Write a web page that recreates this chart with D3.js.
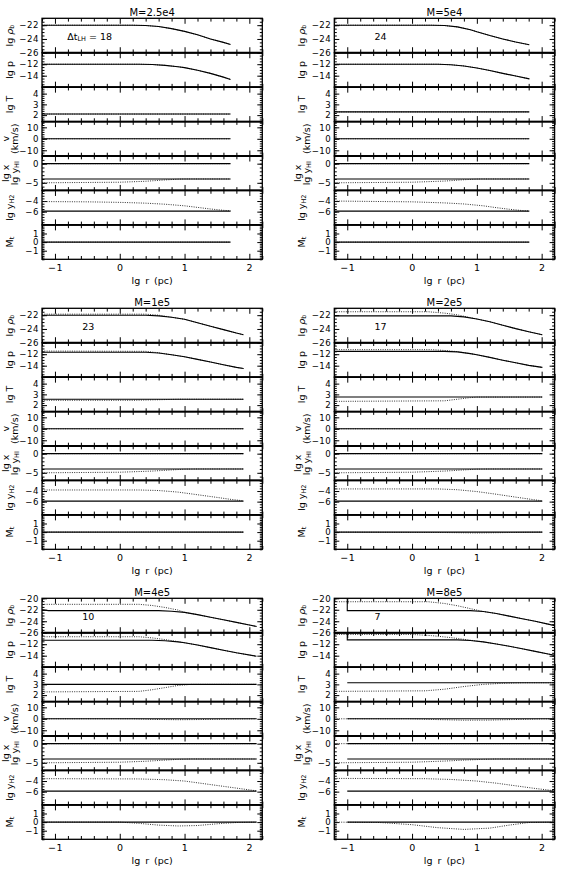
<!DOCTYPE html>
<html>
<head>
<meta charset="utf-8">
<script src="https://cdn.jsdelivr.net/npm/d3@7"></script>
<style>
body { margin: 0; background: #fff; }
text { font-family: "DejaVu Sans"; fill: #000; }
</style>
</head>
<body>
<svg id="fig" width="561" height="869"></svg>
<script>
// models, one per block (left->right, top->bottom)
var titles = ["M=2.5e4", "M=5e4", "M=1e5", "M=2e5", "M=4e5", "M=8e5"];
var dtLH = ["18", "24", "23", "17", "10", "7"];
var rTicks = [-1, 0, 1, 2];

// lg rho_b
var rhoSolid = [
  [[-1.2,-22],[0.2,-22],[0.4,-22.05],[0.6,-22.2],[0.8,-22.5],[1.0,-22.9],[1.2,-23.4],[1.4,-24.0],[1.6,-24.5],[1.71,-24.8]],
  [[-1.2,-22],[0.3,-22],[0.5,-22.05],[0.7,-22.25],[0.9,-22.65],[1.0,-22.95],[1.2,-23.5],[1.4,-24.0],[1.6,-24.45],[1.81,-24.85]],
  [[-1.2,-22],[0.4,-22],[0.6,-22.1],[0.8,-22.3],[1.0,-22.6],[1.2,-23.1],[1.4,-23.6],[1.6,-24.1],[1.8,-24.6],[1.91,-24.85]],
  [[-1.2,-22.1],[0.6,-22.1],[0.8,-22.25],[1.0,-22.55],[1.2,-22.95],[1.4,-23.45],[1.6,-23.95],[1.8,-24.4],[2.01,-24.85]],
  [[-1.2,-22.0],[-1.1,-22.15],[0.6,-22.15],[0.8,-22.25],[1.0,-22.45],[1.2,-22.85],[1.4,-23.3],[1.6,-23.75],[1.8,-24.2],[2.0,-24.65],[2.11,-24.9]],
  [[-1.0,-19],[-1.0,-22.15],[0.9,-22.15],[1.1,-22.3],[1.3,-22.65],[1.5,-23.1],[1.7,-23.55],[1.9,-24.0],[2.1,-24.5],[2.21,-24.8]]
];
var rhoDotted = [
  [[-1.2,-22],[0.2,-22],[0.4,-22.05],[0.6,-22.2],[0.8,-22.5],[1.0,-22.9],[1.2,-23.4],[1.4,-24.0],[1.6,-24.5],[1.71,-24.8]],
  [[-1.2,-22],[0.3,-22],[0.5,-22.05],[0.7,-22.25],[0.9,-22.65],[1.0,-22.95],[1.2,-23.5],[1.4,-24.0],[1.6,-24.45],[1.81,-24.85]],
  [[-1.2,-21.85],[0.4,-21.85],[0.6,-22.0],[0.8,-22.3],[1.0,-22.6],[1.2,-23.1],[1.4,-23.6],[1.6,-24.1],[1.8,-24.6],[1.91,-24.85]],
  [[-1.2,-21.5],[0.25,-21.5],[0.5,-21.7],[0.7,-21.95],[0.85,-22.25],[1.0,-22.55],[1.2,-22.95],[1.4,-23.45],[1.6,-23.95],[1.8,-24.4],[2.01,-24.85]],
  [[-1.2,-21.05],[0.3,-21.05],[0.5,-21.25],[0.7,-21.6],[0.9,-22.05],[1.0,-22.45],[1.2,-22.85],[1.4,-23.3],[1.6,-23.75],[1.8,-24.2],[2.0,-24.65],[2.11,-24.9]],
  [[-1.2,-20.6],[0.25,-20.6],[0.5,-20.9],[0.7,-21.3],[0.9,-21.8],[1.1,-22.3],[1.3,-22.65],[1.5,-23.1],[1.7,-23.55],[1.9,-24.0],[2.1,-24.5],[2.21,-24.8]]
];

// lg p
var pSolid = [
  [[-1.2,-12],[0.3,-12],[0.5,-12.05],[0.7,-12.2],[0.9,-12.45],[1.0,-12.6],[1.2,-13.05],[1.4,-13.6],[1.6,-14.25],[1.71,-14.65]],
  [[-1.2,-12],[0.4,-12],[0.6,-12.1],[0.8,-12.3],[1.0,-12.65],[1.2,-13.1],[1.4,-13.6],[1.6,-14.05],[1.81,-14.55]],
  [[-1.2,-11.65],[0.4,-11.65],[0.6,-11.8],[0.8,-12.1],[1.0,-12.45],[1.2,-12.9],[1.4,-13.35],[1.6,-13.85],[1.8,-14.3],[1.91,-14.5]],
  [[-1.2,-11.5],[0.5,-11.5],[0.7,-11.6],[0.9,-11.9],[1.0,-12.1],[1.2,-12.55],[1.4,-13.05],[1.6,-13.5],[1.8,-13.95],[2.01,-14.3]],
  [[-1.2,-11.3],[0.5,-11.3],[0.7,-11.4],[0.9,-11.6],[1.0,-11.75],[1.2,-12.15],[1.4,-12.6],[1.6,-13.05],[1.8,-13.5],[2.11,-14.1]],
  [[-1.0,-9],[-1.0,-11.25],[0.7,-11.25],[0.9,-11.35],[1.1,-11.6],[1.3,-11.95],[1.5,-12.35],[1.7,-12.8],[1.9,-13.25],[2.1,-13.7],[2.21,-13.95]]
];
var pDotted = [
  [[-1.2,-12],[0.3,-12],[0.5,-12.05],[0.7,-12.2],[0.9,-12.45],[1.0,-12.6],[1.2,-13.05],[1.4,-13.6],[1.6,-14.25],[1.71,-14.65]],
  [[-1.2,-12],[0.4,-12],[0.6,-12.1],[0.8,-12.3],[1.0,-12.65],[1.2,-13.1],[1.4,-13.6],[1.6,-14.05],[1.81,-14.55]],
  [[-1.2,-11.45],[0.4,-11.5],[0.6,-11.75],[0.8,-12.1],[1.0,-12.45],[1.2,-12.9],[1.4,-13.35],[1.6,-13.85],[1.8,-14.3],[1.91,-14.5]],
  [[-1.2,-11.2],[0.3,-11.2],[0.5,-11.35],[0.7,-11.55],[0.9,-11.9],[1.0,-12.1],[1.2,-12.55],[1.4,-13.05],[1.6,-13.5],[1.8,-13.95],[2.01,-14.3]],
  [[-1.2,-10.7],[0.3,-10.7],[0.5,-10.9],[0.7,-11.2],[0.9,-11.55],[1.0,-11.75],[1.2,-12.15],[1.4,-12.6],[1.6,-13.05],[1.8,-13.5],[2.11,-14.1]],
  [[-1.2,-10.3],[0.0,-10.3],[0.3,-10.5],[0.6,-10.85],[0.9,-11.3],[1.1,-11.6],[1.3,-11.95],[1.5,-12.35],[1.7,-12.8],[1.9,-13.25],[2.1,-13.7],[2.21,-13.95]]
];

// lg T
var TSolid = [
  [[-1.2,2.1],[1.71,2.1]],
  [[-1.2,2.3],[1.81,2.3]],
  [[-1.2,2.55],[1.91,2.55]],
  [[-1.2,2.75],[2.01,2.75]],
  [[-1.2,3.0],[2.11,3.0]],
  [[-1.0,3.15],[2.21,3.15]]
];
var TDotted = [
  [[-1.2,2.1],[1.71,2.1]],
  [[-1.2,2.3],[1.81,2.3]],
  [[-1.2,2.45],[0.2,2.45],[0.6,2.5],[0.9,2.55],[1.91,2.55]],
  [[-1.2,2.35],[0.5,2.4],[0.7,2.55],[0.9,2.7],[1.0,2.75],[2.01,2.75]],
  [[-1.2,2.3],[0.3,2.35],[0.5,2.5],[0.7,2.7],[0.9,2.9],[1.1,3.0],[2.11,3.0]],
  [[-1.2,2.35],[0.2,2.4],[0.5,2.55],[0.8,2.8],[1.1,3.0],[1.4,3.1],[1.7,3.15],[2.21,3.15]]
];

// v (km/s)
var vSolid = [
  [[-1.2,0],[1.71,0]],
  [[-1.2,0],[1.81,0]],
  [[-1.2,0],[1.91,0]],
  [[-1.2,0],[2.01,0]],
  [[-1.2,0],[2.11,0]],
  [[-1.0,0],[2.21,0]]
];
var vDotted = [
  [[-1.2,0],[1.71,0]],
  [[-1.2,0],[1.81,0]],
  [[-1.2,0],[1.91,0]],
  [[-1.2,0],[0.4,0],[0.9,-0.3],[1.5,-0.2],[2.01,0]],
  [[-1.2,0],[0.2,0],[0.5,-0.5],[0.9,-0.8],[1.3,-0.6],[1.7,-0.2],[2.11,0]],
  [[-1.2,0],[0.0,0],[0.4,-0.7],[0.8,-1.2],[1.2,-1.1],[1.6,-0.6],[2.0,-0.1],[2.21,0]]
];

// lg x
var xSolid = [
  [[-1.2,-4],[1.71,-4]],
  [[-1.2,-4],[1.81,-4]],
  [[-1.2,-4],[1.91,-4]],
  [[-1.2,-4],[2.01,-4]],
  [[-1.2,-4],[2.11,-4]],
  [[-1.0,-4],[2.21,-4]]
];
var xDotted = [
  [[-1.2,-5],[0,-4.85],[0.4,-4.6],[0.7,-4.25],[0.9,-4.05],[1.0,-4],[1.71,-4]],
  [[-1.2,-5],[0,-4.85],[0.5,-4.55],[0.8,-4.2],[1.0,-4.02],[1.1,-4],[1.81,-4]],
  [[-1.2,-5],[0,-4.85],[0.5,-4.55],[0.8,-4.25],[1.0,-4.05],[1.2,-4],[1.91,-4]],
  [[-1.2,-5],[0,-4.85],[0.5,-4.55],[0.8,-4.25],[1.0,-4.05],[1.2,-4],[2.01,-4]],
  [[-1.2,-5],[0,-4.85],[0.4,-4.6],[0.7,-4.3],[0.9,-4.1],[1.1,-4],[2.11,-4]],
  [[-1.2,-5],[0,-4.85],[0.5,-4.55],[0.8,-4.3],[1.1,-4.1],[1.3,-4],[2.21,-4]]
];

// lg y_HI
var yHISolid = [
  [[-1.2,0],[1.71,0]],
  [[-1.2,0],[1.81,0]],
  [[-1.2,0],[1.91,0]],
  [[-1.2,0],[2.01,0]],
  [[-1.2,0],[2.11,0]],
  [[-1.0,0],[2.21,0]]
];
var yHIDotted = [
  [[-1.2,0],[1.71,0]],
  [[-1.2,0],[1.81,0]],
  [[-1.2,0],[1.91,0]],
  [[-1.2,0],[2.01,0]],
  [[-1.2,0],[2.11,0]],
  [[-1.2,0],[2.21,0]]
];

// lg y_H2
var yH2Solid = [
  [[-1.2,-5.9],[1.71,-5.9]],
  [[-1.2,-5.9],[1.81,-5.9]],
  [[-1.2,-5.9],[1.91,-5.9]],
  [[-1.2,-5.9],[2.01,-5.9]],
  [[-1.2,-5.9],[2.11,-5.9]],
  [[-1.0,-5.9],[2.21,-5.9]]
];
var yH2Dotted = [
  [[-1.2,-4.1],[-0.5,-4.15],[0,-4.25],[0.4,-4.4],[0.7,-4.6],[1.0,-4.9],[1.2,-5.2],[1.4,-5.5],[1.6,-5.75],[1.71,-5.85]],
  [[-1.2,-4.0],[0,-4.15],[0.5,-4.35],[0.8,-4.55],[1.1,-4.9],[1.3,-5.25],[1.5,-5.55],[1.7,-5.8],[1.81,-5.88]],
  [[-1.2,-3.8],[0.3,-3.8],[0.6,-3.9],[0.9,-4.2],[1.2,-4.7],[1.5,-5.2],[1.7,-5.55],[1.91,-5.85]],
  [[-1.2,-3.6],[0.4,-3.6],[0.7,-3.75],[1.0,-4.1],[1.3,-4.6],[1.6,-5.15],[1.8,-5.5],[2.01,-5.85]],
  [[-1.2,-3.55],[0.3,-3.6],[0.7,-3.75],[1.0,-4.0],[1.3,-4.5],[1.6,-5.0],[1.9,-5.5],[2.11,-5.85]],
  [[-1.2,-3.5],[0.2,-3.55],[0.6,-3.7],[1.0,-4.0],[1.3,-4.4],[1.6,-4.9],[1.9,-5.4],[2.21,-5.85]]
];

// M_t
var MtSolid = [
  [[-1.2,0],[1.71,0]],
  [[-1.2,0],[1.81,0]],
  [[-1.2,0],[1.91,0]],
  [[-1.2,0],[2.01,0]],
  [[-1.2,0],[2.11,0]],
  [[-1.0,0],[2.21,0]]
];
var MtDotted = [
  [[-1.2,0],[1.71,0]],
  [[-1.2,0],[1.81,0]],
  [[-1.2,0],[1.91,0]],
  [[-1.2,0],[0.5,-0.05],[1.0,-0.1],[1.5,-0.05],[2.01,0]],
  [[-1.2,0],[0,0],[0.3,-0.15],[0.6,-0.35],[0.9,-0.45],[1.2,-0.4],[1.5,-0.2],[1.8,-0.05],[2.11,0]],
  [[-1.2,0],[-0.5,-0.05],[0,-0.3],[0.4,-0.65],[0.8,-0.85],[1.2,-0.7],[1.5,-0.35],[1.8,-0.05],[2.21,0]]
];

// panel axes
var panelKeys = ["rho", "p", "T", "v", "x", "yH2", "Mt"];
var yDomain = {rho: [-26, -21], p: [-16, -10], T: [1.4, 4.6], v: [-15, 15], x: [-7, 2], yH2: [-8.5, -2], Mt: [-2, 2]};
var yTicks = {rho: [-22, -24, -26], p: [-12, -14], T: [2, 3, 4], v: [-10, 0, 10], x: [0, -5], yH2: [-4, -6], Mt: [-1, 0, 1]};
var yMinor = {rho: 0.5, p: 0.5, T: 0.2, v: 2, x: 1, yH2: 0.5, Mt: 0.2};
var rhoDomainBottom = [-26, -20];
var rhoTicksBottom = [-20, -22, -24, -26];

var curves = {
  rho: [[rhoSolid, rhoDotted]],
  p: [[pSolid, pDotted]],
  T: [[TSolid, TDotted]],
  v: [[vSolid, vDotted]],
  x: [[yHISolid, yHIDotted], [xSolid, xDotted]],
  yH2: [[yH2Solid, yH2Dotted]],
  Mt: [[MtSolid, MtDotted]]
};

var svg = d3.select("#fig");
var colLeft = [42, 334.3], plotW = 220.3;
var rowTop = [18.3, 308.3, 598.3], panH = 34.43;

var x = d3.scaleLinear().domain([-1.2, 2.2]);

function removeDomain(g) { g.select(".domain").remove(); }
function minusFmt(d) { return d < 0 ? "\u2212" + (-d) : d; }

function ylabel(g, cx, cy, parts) {
  var t = g.append("text")
      .attr("transform", "translate(" + cx + "," + cy + ") rotate(-90)")
      .attr("text-anchor", "middle")
      .attr("dominant-baseline", "central")
      .style("font-size", "9.5px");
  var shift = 0;
  parts.forEach(function(pt) {
    var s = t.append("tspan").text(pt[0]);
    if (pt[1] && !shift) { s.attr("dy", 2.5).style("font-size", "6.5px"); shift = 1; }
    else if (!pt[1] && shift) { s.attr("dy", -2.5); shift = 0; }
    if (pt[2]) s.style("font-style", "italic");
  });
}

var clipId = 0;

titles.forEach(function(title, m) {
  var L = colLeft[m % 2], T0 = rowTop[Math.floor(m / 2)];
  var bottomRow = Math.floor(m / 2) == 2;
  var xs = x.copy().range([L, L + plotW]);
  var g = svg.append("g");

  g.append("text").attr("x", L + plotW / 2).attr("y", T0 - 2.5)
      .attr("text-anchor", "middle").style("font-size", "10px").text(title);

  panelKeys.forEach(function(key, k) {
    var top = T0 + k * panH, bot = top + panH;
    var dom = (key == "rho" && bottomRow) ? rhoDomainBottom : yDomain[key];
    var majors = (key == "rho" && bottomRow) ? rhoTicksBottom : yTicks[key];
    var ys = d3.scaleLinear().domain(dom).range([bot, top]);
    var step = yMinor[key];
    var minors = d3.range(Math.ceil(dom[0] / step) * step, dom[1] + 1e-9, step);

    // y ticks, both sides, pointing in
    g.append("g").attr("transform", "translate(" + L + ",0)")
        .call(d3.axisRight(ys).tickValues(minors).tickSize(2.5).tickFormat("")).call(removeDomain);
    g.append("g").attr("transform", "translate(" + L + ",0)")
        .call(d3.axisRight(ys).tickValues(majors).tickSize(5).tickFormat("")).call(removeDomain);
    g.append("g").attr("transform", "translate(" + (L + plotW) + ",0)")
        .call(d3.axisLeft(ys).tickValues(minors).tickSize(2.5).tickFormat("")).call(removeDomain);
    g.append("g").attr("transform", "translate(" + (L + plotW) + ",0)")
        .call(d3.axisLeft(ys).tickValues(majors).tickSize(5).tickFormat("")).call(removeDomain);
    // y tick labels
    g.append("g").attr("transform", "translate(" + L + ",0)")
        .call(d3.axisLeft(ys).tickValues(majors).tickSize(0).tickPadding(3).tickFormat(minusFmt))
        .call(removeDomain)
        .selectAll("text").style("font-family", "DejaVu Sans").style("font-size", "8.6px")
        .style("letter-spacing", "0.5px");

    // x ticks at top and bottom of every panel
    var xMinor = d3.range(-1.2, 2.21, 0.2).filter(function(d) { return Math.abs(d - Math.round(d)) > 0.01; });
    g.append("g").attr("transform", "translate(0," + top + ")")
        .call(d3.axisBottom(xs).tickValues(xMinor).tickSize(3.3).tickFormat("")).call(removeDomain);
    g.append("g").attr("transform", "translate(0," + top + ")")
        .call(d3.axisBottom(xs).tickValues(rTicks).tickSize(5.5).tickFormat("")).call(removeDomain);
    g.append("g").attr("transform", "translate(0," + bot + ")")
        .call(d3.axisTop(xs).tickValues(xMinor).tickSize(3.3).tickFormat("")).call(removeDomain);
    g.append("g").attr("transform", "translate(0," + bot + ")")
        .call(d3.axisTop(xs).tickValues(rTicks).tickSize(5.5).tickFormat("")).call(removeDomain);

    // curves
    clipId += 1;
    svg.append("clipPath").attr("id", "c" + clipId).append("rect")
        .attr("x", L).attr("y", top).attr("width", plotW).attr("height", panH);
    var line = d3.line().x(function(d) { return xs(d[0]); }).y(function(d) { return ys(d[1]); });
    var cg = g.append("g").attr("clip-path", "url(#c" + clipId + ")");
    curves[key].forEach(function(pair) {
      cg.append("path").attr("d", line(pair[1][m])).attr("fill", "none")
          .attr("stroke", "#333").attr("stroke-width", 1).attr("stroke-dasharray", "1,1.3");
      cg.append("path").attr("d", line(pair[0][m])).attr("fill", "none")
          .attr("stroke", "#000").attr("stroke-width", 1.1);
    });

    // frame
    g.append("rect").attr("x", L).attr("y", top).attr("width", plotW).attr("height", panH)
        .attr("fill", "none").attr("stroke", "#000").attr("stroke-width", 1.3);

    // y labels
    var cy = (top + bot) / 2;
    if (key == "rho") ylabel(g, L - 33, cy, [["lg "], ["\u03c1", 0, 1], ["b", 1]]);
    if (key == "p") ylabel(g, L - 33, cy, [["lg p"]]);
    if (key == "T") ylabel(g, L - 33, cy, [["lg T"]]);
    if (key == "v") { ylabel(g, L - 37.5, cy, [["v"]]); ylabel(g, L - 28.5, cy, [["(km/s)"]]); }
    if (key == "x") { ylabel(g, L - 37.5, cy, [["lg x"]]); ylabel(g, L - 28, cy, [["lg y"], ["HI", 1]]); }
    if (key == "yH2") ylabel(g, L - 33, cy, [["lg y"], ["H2", 1]]);
    if (key == "Mt") ylabel(g, L - 33, cy, [["M"], ["t", 1]]);

    if (key == "rho") {
      var lab = g.append("text").attr("y", top + 17.7).attr("dominant-baseline", "central")
          .style("font-size", "9.5px");
      if (m == 0) {
        lab.attr("x", xs(-0.81));
        lab.append("tspan").text("\u0394t");
        lab.append("tspan").attr("dy", 2.5).style("font-size", "6.5px").text("LH");
        lab.append("tspan").attr("dy", -2.5).text(" = " + dtLH[m]);
      } else {
        lab.attr("x", xs(-0.58)).text(dtLH[m]);
      }
    }
  });

  // separators drawn thicker
  for (var k = 1; k < panelKeys.length; k++) {
    g.append("line").attr("x1", L).attr("x2", L + plotW)
        .attr("y1", T0 + k * panH).attr("y2", T0 + k * panH)
        .attr("stroke", "#000").attr("stroke-width", 1.8);
  }

  var B = T0 + panelKeys.length * panH;
  g.append("g").attr("transform", "translate(0," + B + ")")
      .call(d3.axisBottom(xs).tickValues(rTicks).tickSize(0).tickPadding(5).tickFormat(minusFmt))
      .call(removeDomain)
      .selectAll("text").style("font-family", "DejaVu Sans").style("font-size", "9.5px")
      .style("letter-spacing", "0.5px");
  g.append("text").attr("x", L + plotW / 2).attr("y", B + 25).attr("text-anchor", "middle")
      .style("font-size", "9.5px").style("word-spacing", "2px").text("lg r (pc)");
});

svg.selectAll(".tick line").attr("stroke", "#000").attr("stroke-width", 1);
</script>
</body>
</html>
